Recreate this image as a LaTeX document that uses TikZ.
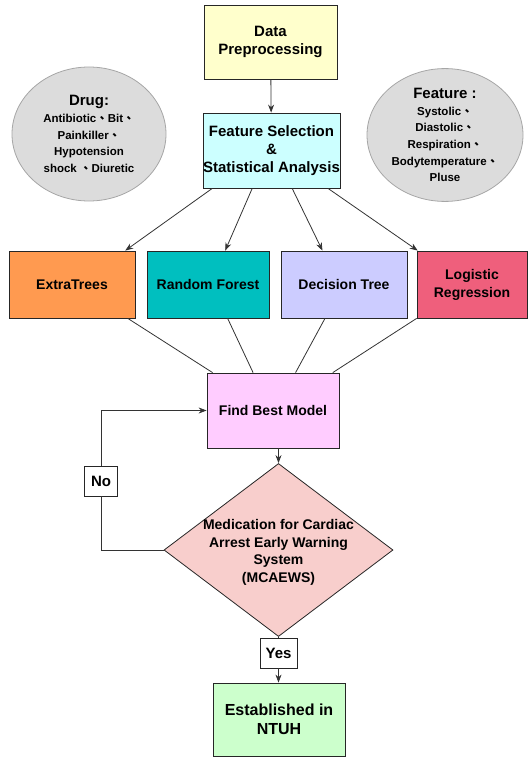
\documentclass[tikz,border=0pt]{standalone}
\usepackage{fontspec}
\setmainfont{Liberation Sans}
\newfontfamily\cjk{Noto Sans CJK TC}
\newcommand{\dn}{{\cjk 、}}
\usetikzlibrary{arrows.meta, calc, shapes.geometric}

\definecolor{prepyellow}{HTML}{FFFFCC}
\definecolor{selcyan}{HTML}{CCFFFF}
\definecolor{bubblegrey}{HTML}{DCDCDC}
\definecolor{etorange}{HTML}{FF9A50}
\definecolor{rfteal}{HTML}{00BFBF}
\definecolor{dtlavender}{HTML}{CCCCFF}
\definecolor{lrred}{HTML}{EF5F7C}
\definecolor{bestpink}{HTML}{FFCCFF}
\definecolor{decrose}{HTML}{F8CECC}
\definecolor{estgreen}{HTML}{CCFFCC}

\begin{document}
\begin{tikzpicture}[x=1pt, y=-1pt, >={Stealth[length=8pt, width=6pt]}, line width=0.8pt,
                    font=\bfseries\fontsize{15}{18}\selectfont,
                    box/.style={draw=black!85, minimum height=74pt, inner sep=0pt, align=center},
                    model/.style={box, minimum height=67pt, font=\bfseries\fontsize{14}{18}\selectfont},
                    bubble/.style={ellipse, draw=black!35, fill=bubblegrey, inner sep=0pt, align=center,
                                   font=\bfseries\fontsize{11.5}{16.7}\selectfont},
                    tag/.style={draw=black!85, fill=white, minimum height=30pt, inner sep=0pt},
                    link/.style={draw=black!80}]
                    \useasboundingbox (0,0) rectangle (528,757);
                    % top part
                    \node [box, fill=prepyellow, minimum width=133pt] (prep) at (270.5,42) {Data\\Preprocessing};
                    \node [box, fill=selcyan, minimum width=137pt, minimum height=75pt] (sel) at (271.5,150.5) {Feature Selection\\\&\\Statistical Analysis};
                    \node [bubble, minimum width=154pt, minimum height=134pt] (drug) at (89,134)
                        {{\fontsize{15}{17}\selectfont Drug:}\\Antibiotic\dn Bit\dn\\Painkiller\dn\\Hypotension\\shock \dn Diuretic};
                    \node [bubble, minimum width=156pt, minimum height=132pt] (feat) at (445,135)
                        {{\fontsize{15}{17}\selectfont Feature :}\\Systolic\dn\\Diastolic\dn\\Respiration\dn\\Bodytemperature\dn\\Pluse};
                    % models
                    \node [model, fill=etorange, minimum width=126pt] (et) at (72,284.5) {ExtraTrees};
                    \node [model, fill=rfteal, minimum width=122pt] (rf) at (208,284.5) {Random Forest};
                    \node [model, fill=dtlavender, minimum width=126pt] (dt) at (344,284.5) {Decision Tree};
                    \node [model, fill=lrred, minimum width=110pt] (lr) at (472,284.5) {Logistic\\Regression};
                    % bottom part
                    \node [box, fill=bestpink, minimum width=132pt, minimum height=75pt, font=\bfseries\fontsize{14}{18}\selectfont] (best) at (273,410.5) {Find Best Model};
                    \node [diamond, draw=black!85, fill=decrose, minimum width=229pt, minimum height=173pt, inner sep=0pt,
                           font=\bfseries\fontsize{14}{17.7}\selectfont] (dec) at (278.5,550)
                        {\makebox[0pt]{\smash{\raisebox{-6pt}{\begin{tabular}{@{}c@{}}Medication for Cardiac\\Arrest Early Warning\\System\\(MCAEWS)\end{tabular}}}}};
                    \node [tag, minimum width=33pt] (no) at (101,481) {No};
                    \node [tag, minimum width=37pt] (yes) at (278.5,653) {Yes};
                    \node [box, fill=estgreen, minimum width=132pt, minimum height=73pt, font=\bfseries\fontsize{16}{19}\selectfont] (est) at (279,719.5) {Established in\\NTUH};

                    \draw [link, ->] (prep) -- (sel);
                    \foreach \a/\m/\b in {0.07/et/0.92, 0.36/rf/0.64, 0.65/dt/0.33, 0.91/lr/0.01}
                        \draw [link, ->] ($(sel.south west)!\a!(sel.south east)$) -- ($(\m.north west)!\b!(\m.north east)$);
                    \foreach \m/\a/\b in {et/0.94/0.045, rf/0.66/0.35, dt/0.35/0.67, lr/0.0/0.95}
                        \draw [link] ($(\m.south west)!\a!(\m.south east)$) -- ($(best.north west)!\b!(best.north east)$);
                    \draw [link, ->] (dec.north |- best.south) -- (dec.north);
                    \draw [link] (dec.west) -| (no.south);
                    \draw [link, ->] (no.north) |- (best.west);
                    \draw [link] (dec.south) -- (yes.north);
                    \draw [link, ->] (yes.south) -- (yes.south |- est.north);
                \end{tikzpicture}
\end{document}
